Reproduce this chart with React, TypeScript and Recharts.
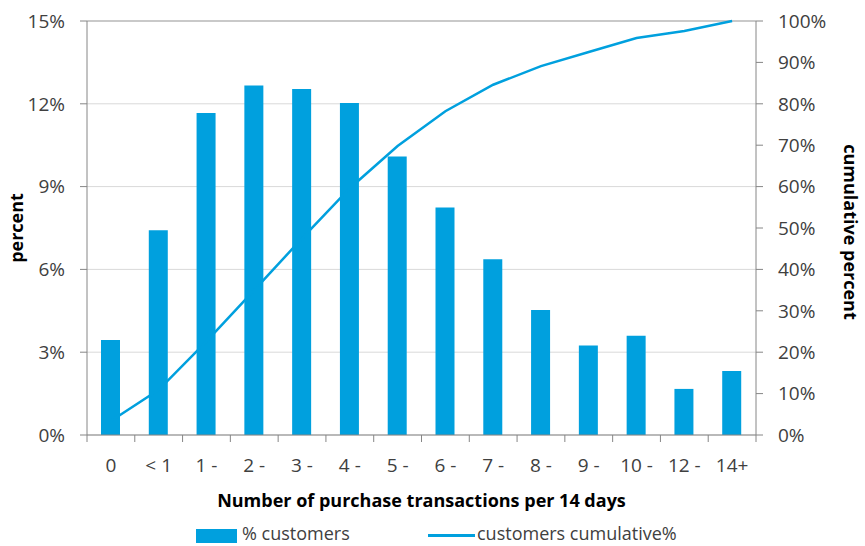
import React from 'react';
import {
  ComposedChart,
  Bar,
  Line,
  XAxis,
  YAxis,
  CartesianGrid,
  Legend,
  ReferenceLine,
} from 'recharts';

const categories = ['0', '< 1', '1 -', '2 -', '3 -', '4 -', '5 -', '6 -', '7 -', '8 -', '9 -', '10 -', '12 -', '14+'];
const customersPct = [3.44, 7.42, 11.67, 12.66, 12.54, 12.03, 10.09, 8.24, 6.37, 4.53, 3.24, 3.6, 1.67, 2.32];
const cumulativePct = [3.4, 10.9, 22.6, 35.0, 47.5, 59.6, 69.8, 78.2, 84.6, 89.1, 92.5, 95.9, 97.6, 100];
const leftTicks = [0, 3, 6, 9, 12, 15];
const rightTicks = [0, 10, 20, 30, 40, 50, 60, 70, 80, 90, 100];

const WIDTH = 865;
const HEIGHT = 546;
const LEFT_W = 87;
const RIGHT_W = 109;
const BAND = (WIDTH - LEFT_W - RIGHT_W) / categories.length;

const BLUE = '#00A0DE';
const AXIS = '#868686';
const FONT = "'Open Sans', sans-serif";

const chartData = categories.map((name, i) => ({
  name,
  customers: customersPct[i],
  cumulative: cumulativePct[i],
}));

const XTick = (props: any) => {
  const { x, y, payload, index } = props;
  const half = BAND / 2;
  return (
    <g>
      <line x1={x - half} x2={x - half} y1={y} y2={y + 7} stroke={AXIS} />
      {index === categories.length - 1 && (
        <line x1={x + half} x2={x + half} y1={y} y2={y + 7} stroke={AXIS} />
      )}
      <text x={x} y={y + 37} textAnchor="middle" fill="#404040" fontSize={19} fontFamily={FONT}>
        {payload.value}
      </text>
    </g>
  );
};

const renderLegend = () => (
  <div style={{ position: 'relative', width: WIDTH, height: 30, fontFamily: FONT, fontSize: 18, color: '#404040' }}>
    <div style={{ position: 'absolute', left: 196, top: 13, width: 41, height: 14, background: BLUE }} />
    <span style={{ position: 'absolute', left: 242, top: 7, lineHeight: '20px', whiteSpace: 'nowrap' }}>% customers</span>
    <div style={{ position: 'absolute', left: 428, top: 18, width: 47, height: 3, background: BLUE }} />
    <span style={{ position: 'absolute', left: 477, top: 7, lineHeight: '20px', whiteSpace: 'nowrap' }}>customers cumulative%</span>
  </div>
);

export default function App() {
  return (
    <div style={{ position: 'absolute', left: 0, top: 0, width: WIDTH, height: HEIGHT, background: '#fff' }}>
      <ComposedChart
        width={WIDTH}
        height={HEIGHT}
        data={chartData}
        margin={{ top: 21, right: 0, bottom: 0, left: 0 }}
      >
        <CartesianGrid yAxisId="left" vertical={false} stroke="#d9d9d9" />
        <XAxis
          dataKey="name"
          interval={0}
          height={81}
          tickLine={false}
          tickSize={0}
          tickMargin={0}
          axisLine={{ stroke: AXIS }}
          tick={<XTick />}
          label={{
            value: 'Number of purchase transactions per 14 days',
            position: 'insideBottom',
            offset: 9,
            fill: '#000',
            fontSize: 18,
            fontWeight: 700,
            fontFamily: FONT,
          }}
        />
        <YAxis
          yAxisId="left"
          width={LEFT_W}
          domain={[0, 15]}
          ticks={leftTicks}
          tickFormatter={(v) => `${v}%`}
          axisLine={{ stroke: AXIS }}
          tickLine={{ stroke: AXIS }}
          tickSize={7}
          tickMargin={15}
          tick={{ fill: '#404040', fontSize: 19, fontFamily: FONT }}
          label={{
            content: () => (
              <text
                x={16}
                y={228}
                transform="rotate(-90, 16, 228)"
                textAnchor="middle"
                dominantBaseline="central"
                fontSize={18}
                fontWeight={700}
                fontFamily={FONT}
                fill="#000"
              >
                percent
              </text>
            ),
          }}
        />
        <YAxis
          yAxisId="right"
          orientation="right"
          width={RIGHT_W}
          domain={[0, 100]}
          ticks={rightTicks}
          tickFormatter={(v) => `${v}%`}
          axisLine={{ stroke: AXIS }}
          tickLine={{ stroke: AXIS }}
          tickSize={7}
          tickMargin={15}
          tick={{ fill: '#404040', fontSize: 19, fontFamily: FONT }}
          label={{
            content: () => (
              <text
                x={851}
                y={232}
                transform="rotate(90, 851, 232)"
                textAnchor="middle"
                dominantBaseline="central"
                fontSize={18}
                fontWeight={700}
                fontFamily={FONT}
                fill="#000"
              >
                cumulative percent
              </text>
            ),
          }}
        />
        <ReferenceLine yAxisId="left" y={15} stroke="#a6a6a6" />
        <Legend verticalAlign="bottom" height={30} content={renderLegend} />
        <Bar
          yAxisId="left"
          dataKey="customers"
          name="% customers"
          fill={BLUE}
          barSize={19}
          isAnimationActive={false}
        />
        <Line
          yAxisId="right"
          type="linear"
          dataKey="cumulative"
          name="customers cumulative%"
          stroke={BLUE}
          strokeWidth={2.5}
          dot={false}
          isAnimationActive={false}
        />
      </ComposedChart>
    </div>
  );
}
